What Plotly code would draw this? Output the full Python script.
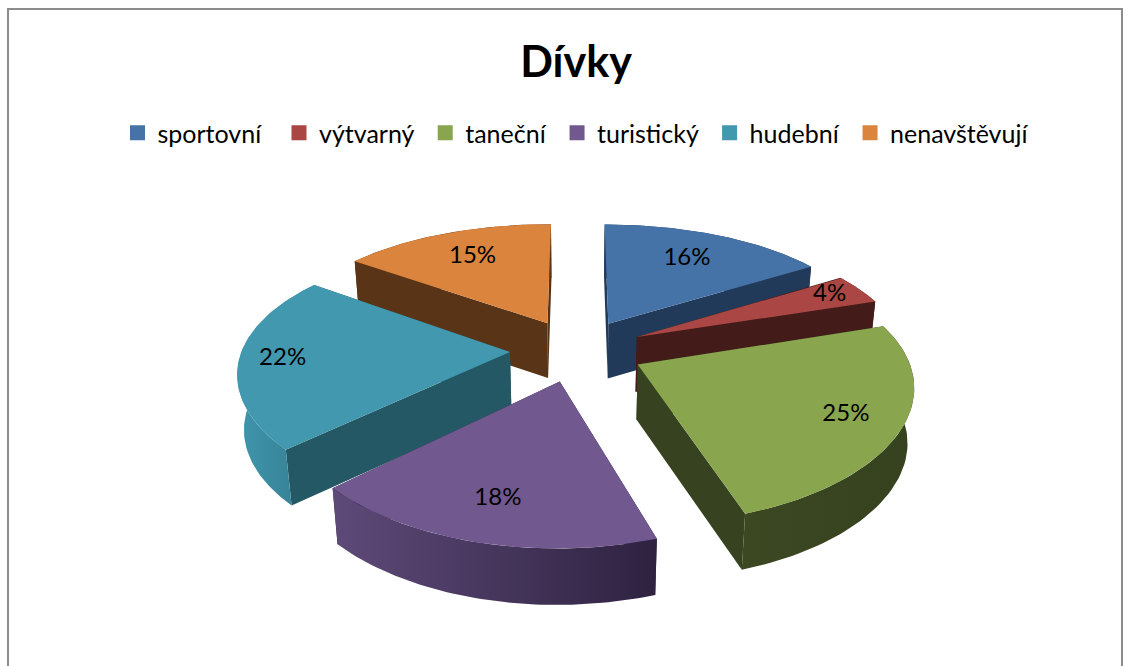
import numpy as np
import plotly.graph_objects as go

# --- data ---
categories = ["sportovní", "výtvarný", "taneční", "turistický", "hudební", "nenavštěvují"]
values = [16, 4, 25, 18, 22, 15]
top_colors = ["#4573A7", "#AA4643", "#89A54E", "#71588F", "#4198AF", "#DB843D"]
side_colors = ["#223A59", "#431C1A", "#374320", "#2E2240", "#245865", "#5A3417"]
rim_left = ["#223A59", "#431C1A", "#3B4822", "#5E4A79", "#4096AD", "#5A3417"]
rim_right = ["#223A59", "#431C1A", "#36421F", "#2E2240", "#327A8C", "#5A3417"]
label_radius = [0.70, 0.86, 0.80, 0.77, 0.84, 0.71]
legend_pad = [2, 1, 1, 1, 1, 0]
paint_order = [0, 5, 1, 4, 2, 3]

# --- pie geometry (pixel-scale axes) ---
CX, CY, RX, RY, DIST, EXPLODE, DEPTH, TAPER = 577, 350, 268, 125, 5.7, 0.25, 55, 0.98


def project(xw, yw, drop=False):
    s = DIST / (DIST - yw)
    px, py = xw * RX * s ** 0.8, yw * RY * s
    if drop:
        px = px * TAPER
        py = py + DEPTH * s ** 0.1
    return CX + px, CY + py


def polar(theta, mid, r=1.0):
    ox, oy = EXPLODE * np.sin(mid), -EXPLODE * np.cos(mid)
    return ox + r * np.sin(theta), oy - r * np.cos(theta)


fig = go.Figure()
total = sum(values)
edges = np.concatenate([[0], np.cumsum(values)]) / total * 2 * np.pi


def poly(xs, ys, color=None, grad=None):
    kw = dict(fillgradient=grad) if grad else dict(fillcolor=color)
    fig.add_trace(go.Scatter(x=list(xs), y=list(ys), mode="lines", fill="toself",
                             line=dict(width=0), hoverinfo="skip", showlegend=False, **kw))


label_x, label_y, label_text = [], [], []
for i in paint_order:
    a0, a1 = edges[i], edges[i + 1]
    mid = (a0 + a1) / 2
    th = np.linspace(a0, a1, 60)
    ax, ay = polar(th, mid)
    cxw, cyw = polar(np.array([mid]), mid, 0.0)
    tx, ty = project(ax, ay)
    bx, by = project(ax, ay, True)
    apx, apy = project(cxw, cyw)
    abx, aby = project(cxw, cyw, True)
    # flat side walls
    poly([apx[0], tx[0], bx[0], abx[0]], [apy[0], ty[0], by[0], aby[0]], side_colors[i])
    poly([apx[0], tx[-1], bx[-1], abx[0]], [apy[0], ty[-1], by[-1], aby[0]], side_colors[i])
    # outer rim
    grad = dict(type="horizontal", colorscale=[[0, rim_left[i]], [1, rim_right[i]]])
    poly(np.concatenate([tx, bx[::-1]]), np.concatenate([ty, by[::-1]]), grad=grad)
    # top face
    poly(np.concatenate([apx, tx]), np.concatenate([apy, ty]), top_colors[i])
    lx, ly = polar(np.array([mid]), mid, label_radius[i])
    px, py = project(lx, ly)
    label_x.append(px[0]); label_y.append(py[0]); label_text.append(f"{values[i]}%")

fig.add_trace(go.Scatter(x=label_x, y=label_y, text=label_text, mode="text", hoverinfo="skip",
                         showlegend=False,
                         textfont=dict(family="Lato, Carlito, sans-serif", size=24, color="#000000")))

for name, color, pad in zip(categories, top_colors, legend_pad):
    fig.add_trace(go.Scatter(x=[None], y=[None], name=name + "\u00a0" * pad, mode="markers",
                             marker=dict(symbol="square", size=15, color=color)))

fig.update_layout(
    width=1131, height=666, margin=dict(l=0, r=0, t=0, b=0),
    paper_bgcolor="white", plot_bgcolor="white",
    font=dict(family="Lato, Carlito, sans-serif", color="#000000"),
    title=dict(text="<b>Dívky</b>", x=576 / 1131, y=1 - 62 / 666, xanchor="center", yanchor="middle",
               font=dict(size=43, color="#000000")),
    xaxis=dict(range=[0, 1131], visible=False, fixedrange=True),
    yaxis=dict(range=[666, 0], visible=False, fixedrange=True),
    legend=dict(orientation="h", x=575.5 / 1131, xanchor="center", y=1 - 133 / 666, yanchor="middle",
                font=dict(size=25), itemwidth=30, bgcolor="rgba(0,0,0,0)"),
    shapes=[dict(type="rect", xref="x", yref="y", x0=8, y0=9, x1=1122, y1=700,
                 line=dict(color="#8C8C8C", width=2), fillcolor="rgba(0,0,0,0)", layer="below")],
)
fig.write_html("out.html", config={"displayModeBar": False},
               post_script="document.body.style.margin='0';window.dispatchEvent(new Event('resize'));")
